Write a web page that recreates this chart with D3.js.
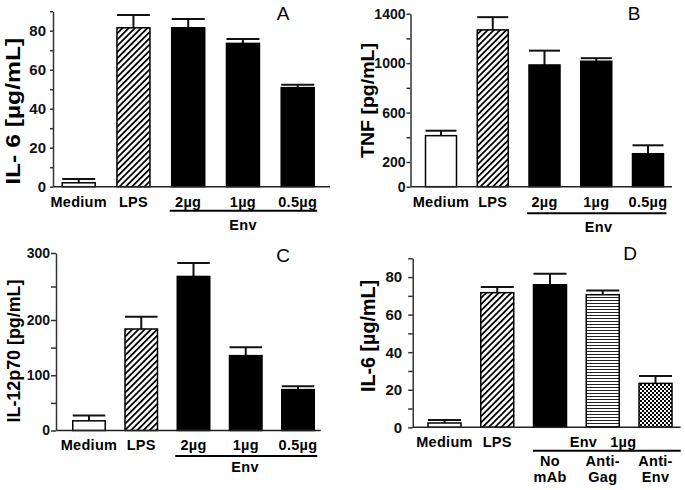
<!DOCTYPE html>
<html><head><meta charset="utf-8">
<script src="https://cdn.jsdelivr.net/npm/d3@7"></script>
<style>body{margin:0;background:#fff}text{font-family:"Liberation Sans",Arial,sans-serif}</style>
</head><body><svg id="c" width="685" height="490"></svg>
<script>
// ---------- data ----------
const catsEnv = ["Medium","LPS","2µg","1µg","0.5µg"];
const catsD   = ["Medium","LPS","No mAb","Anti-Gag","Anti-Env"];
const catLinesD = [["Medium"],["LPS"],["No","mAb"],["Anti-","Gag"],["Anti-","Env"]];

const il6Mean  = [2, 81.5, 81.5, 73.5, 50.8];
const il6Err   = [1.9, 6.5, 4.5, 2.2, 1.5];
const tnfMean  = [413, 1269, 985, 1015, 267];
const tnfErr   = [40, 103, 116, 25, 68];
const il12Mean = [17.5, 183.7, 265, 135.5, 74];
const il12Err  = [9.5, 21.3, 20, 15, 6];
const il6dMean = [2.3, 71.7, 75.9, 70.6, 23.4];
const il6dErr  = [1.6, 3.0, 5.9, 2.3, 3.9];

const fillsEnv = ["white","diag","black","black","black"];
const fillsD   = ["white","diag","black","hline","check"];

const ticksA = [0,10,20,30,40,50,60,70,80,90], labelsA = [0,20,40,60,80];
const ticksB = [0,200,400,600,800,1000,1200,1400], labelsB = [0,200,600,1000,1400];
const ticksC = [0,50,100,150,200,250,300], labelsC = [0,100,200,300];
const ticksD = ticksA, labelsD = labelsA;

// ---------- drawing ----------
const svg = d3.select("#c");
svg.append("rect").attr("width",685).attr("height",490).attr("fill","#fff");
const defs = svg.append("defs");
const pd = defs.append("pattern").attr("id","diag").attr("patternUnits","userSpaceOnUse")
  .attr("width",4.4).attr("height",4.4).attr("patternTransform","rotate(45)");
pd.append("rect").attr("width",4.4).attr("height",4.4).attr("fill","#fff");
pd.append("rect").attr("x",0).attr("width",1.8).attr("height",4.4).attr("fill","#000");
const ph = defs.append("pattern").attr("id","hline").attr("patternUnits","userSpaceOnUse")
  .attr("width",4).attr("height",3);
ph.append("rect").attr("width",4).attr("height",3).attr("fill","#fff");
ph.append("rect").attr("y",0).attr("width",4).attr("height",1).attr("fill","#222");
const pc = defs.append("pattern").attr("id","check").attr("patternUnits","userSpaceOnUse")
  .attr("width",4).attr("height",4);
pc.append("rect").attr("width",4).attr("height",4).attr("fill","#fff");
pc.append("rect").attr("width",2).attr("height",2).attr("fill","#000");
pc.append("rect").attr("x",2).attr("y",2).attr("width",2).attr("height",2).attr("fill","#000");

const fillOf = f => f==="white"?"#fff":f==="black"?"#000":`url(#${f})`;

function panel(cfg, cats, means, errs, fills, ticks, labels){
  const g = svg.append("g");
  const y = d3.scaleLinear().domain(cfg.domain).range(cfg.range);
  const x = d3.scalePoint().domain(cats).range(cfg.xr);
  const bw = cfg.bw;
  const data = cats.map((c,i)=>({c, m:means[i], e:errs[i], f:fills[i]}));

  g.selectAll(".ev").data(data).join("line")
    .attr("x1",d=>x(d.c)).attr("x2",d=>x(d.c))
    .attr("y1",d=>y(d.m)).attr("y2",d=>y(d.m+d.e)).attr("stroke","#111").attr("stroke-width",2);
  g.selectAll(".ec").data(data).join("line")
    .attr("x1",d=>x(d.c)-bw/2).attr("x2",d=>x(d.c)+bw/2)
    .attr("y1",d=>y(d.m+d.e)).attr("y2",d=>y(d.m+d.e)).attr("stroke","#111").attr("stroke-width",2);
  g.selectAll(".bar").data(data).join("rect")
    .attr("x",d=>x(d.c)-bw/2).attr("width",bw)
    .attr("y",d=>y(d.m)).attr("height",d=>y(0)-y(d.m))
    .attr("fill",d=>fillOf(d.f)).attr("stroke","#000").attr("stroke-width",1.5);

  g.append("line").attr("x1",cfg.ax).attr("x2",cfg.xEnd).attr("y1",y(0)).attr("y2",y(0))
    .attr("stroke","#222").attr("stroke-width",1.5);
  const ag = g.append("g").attr("transform",`translate(${cfg.ax},0)`)
    .call(d3.axisLeft(y).tickValues(ticks).tickSize(cfg.tl).tickSizeOuter(0).tickPadding(cfg.pad)
      .tickFormat(d=>labels.includes(d)?d:""));
  ag.select(".domain").attr("stroke","#333").attr("stroke-width",1.5);
  ag.selectAll(".tick line").attr("stroke","#333").attr("stroke-width",1.5);
  ag.selectAll(".tick text").attr("fill","#111").attr("font-weight","bold")
    .attr("font-size",cfg.tfs).attr("font-family","Liberation Sans, Arial, sans-serif");

  g.append("text").attr("transform",`translate(${cfg.ylx},${cfg.yly}) rotate(-90)`)
    .attr("text-anchor","middle").attr("dominant-baseline","central")
    .attr("font-weight","bold").attr("font-size",cfg.ylfs)
    .attr("textLength",cfg.yllen).attr("lengthAdjust","spacingAndGlyphs").text(cfg.ylabel);
  g.append("text").attr("x",cfg.lx).attr("y",cfg.ly).attr("text-anchor","middle")
    .attr("dominant-baseline","central").attr("font-size",19).text(cfg.letter);
  return {g,x,y};
}

function envGroup(p, cats, cfg){
  const {g,x} = p;
  const x1 = x(cats[2]) - cfg.bw/2 - 2, x2 = x(cats[4]) + cfg.bw/2 + 3;
  g.append("line").attr("x1",x1).attr("x2",x2).attr("y1",cfg.gly).attr("y2",cfg.gly)
    .attr("stroke","#000").attr("stroke-width",2);
}

const catText = (g, x, cats, yPos) => g.selectAll(".cl").data(cats).join("text")
  .attr("x",d=>x(d)).attr("y",yPos).attr("text-anchor","middle").attr("dominant-baseline","central")
  .attr("font-weight","bold").attr("font-size",14.5).attr("letter-spacing",0.3).text(d=>d);
const label = (g, x, y, t) => g.append("text").attr("x",x).attr("y",y).attr("text-anchor","middle")
  .attr("dominant-baseline","central").attr("font-weight","bold").attr("font-size",14.5)
  .attr("letter-spacing",0.3).attr("xml:space","preserve").text(t);

// Panel A
const cA = {domain:[0,90], range:[186.7,11.2], xr:[78.7,297.7], bw:33, ax:53, xEnd:330, tl:3, pad:4, tfs:15,
  ylabel:"IL- 6 [µg/mL]", ylx:13, yly:111.3, ylfs:19.5, yllen:147, letter:"A", lx:283, ly:13, gly:210.7};
const pA = panel(cA, catsEnv, il6Mean, il6Err, fillsEnv, ticksA, labelsA);
catText(pA.g, pA.x, catsEnv, 202);
envGroup(pA, catsEnv, cA);
label(pA.g, 243, 225, "Env");

// Panel B
const cB = {domain:[0,1400], range:[186.7,13.7], xr:[441,648], bw:31, ax:410.5, xEnd:672, tl:4, pad:1, tfs:14,
  ylabel:"TNF [pg/mL]", ylx:367, yly:100.5, ylfs:19, yllen:115, letter:"B", lx:634, ly:13, gly:213.3};
const pB = panel(cB, catsEnv, tnfMean, tnfErr, fillsEnv, ticksB, labelsB);
catText(pB.g, pB.x, catsEnv, 201.7);
envGroup(pB, catsEnv, cB);
label(pB.g, 598.5, 226.7, "Env");

// Panel C (piecewise axis as in the original)
const cC = {domain:[0,200,300], range:[430.5,320,253], xr:[89,298], bw:32.5, ax:56, xEnd:320.7, tl:5, pad:1, tfs:14,
  ylabel:"IL-12p70 [pg/mL]", ylx:14, yly:351, ylfs:18, yllen:143, letter:"C", lx:283, ly:255, gly:456};
const pC = panel(cC, catsEnv, il12Mean, il12Err, fillsEnv, ticksC, labelsC);
catText(pC.g, pC.x, catsEnv, 445);
envGroup(pC, catsEnv, cC);
label(pC.g, 245, 466.7, "Env");

// Panel D
const cD = {domain:[0,90], range:[427.3,258.3], xr:[444.5,655.5], bw:33, ax:412.7, xEnd:680.7, tl:4.5, pad:6, tfs:15,
  ylabel:"IL-6 [µg/mL]", ylx:368, yly:336, ylfs:20, yllen:112, letter:"D", lx:630, ly:253, gly:450.7};
const pD = panel(cD, catsD, il6dMean, il6dErr, fillsD, ticksD, labelsD);
catText(pD.g, pD.x, catsD.slice(0,2), 441.7);
pD.g.append("line").attr("x1",533).attr("x2",680.7).attr("y1",cD.gly).attr("y2",cD.gly)
  .attr("stroke","#000").attr("stroke-width",2);
label(pD.g, 603, 441.7, "Env   1µg");
catsD.slice(2).forEach((c,i)=>{
  catLinesD[i+2].forEach((ln,j)=> label(pD.g, pD.x(c), 461+j*16, ln));
});
</script></body></html>
